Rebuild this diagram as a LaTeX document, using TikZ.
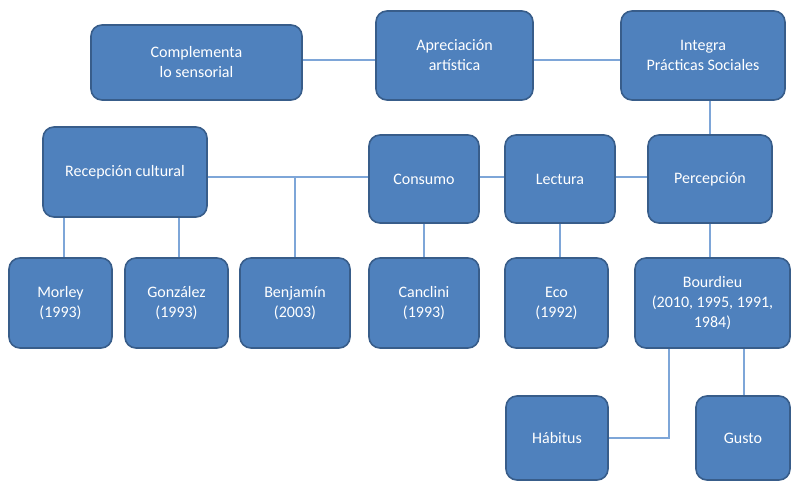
\documentclass[tikz,border=0pt]{standalone}
\usepackage{fontspec}
\setmainfont{Carlito}
\usetikzlibrary{positioning}

\definecolor{boxfill}{HTML}{4F81BD}
\definecolor{boxline}{HTML}{385D8A}
\definecolor{linkline}{HTML}{7EA6D8}

\tikzset{
  conceptbox/.style={draw=boxline, line width=1.6pt, fill=boxfill,
    rounded corners=11pt, text=white, align=center, inner sep=0pt,
    font=\fontsize{16}{20}\selectfont},
  link/.style={draw=linkline, line width=1.2pt}
}

\begin{document}
\begin{tikzpicture}[x=1pt,y=-1pt]
  \useasboundingbox (0,0) rectangle (791,481);
  % top row
  \node (comp) [conceptbox, minimum width=211pt, minimum height=75pt] at (196.5,62.5) {Complementa\\lo sensorial};
  \node (apre) [conceptbox, minimum width=157pt, minimum height=89pt] at (454.5,55.5) {Apreciación\\artística};
  \node (integ) [conceptbox, minimum width=164pt, minimum height=89pt] at (703,55.5) {Integra\\Prácticas Sociales};
  % middle row
  \node (recep) [conceptbox, minimum width=164pt, minimum height=90pt] at (125,172) {Recepción cultural};
  \node (consumo) [conceptbox, minimum width=110pt, minimum height=88pt] at (424,179) {Consumo};
  \node (lectura) [conceptbox, minimum width=110pt, minimum height=88pt] at (560,179) {Lectura};
  \node (percep) [conceptbox, minimum width=124pt, minimum height=88pt] at (710,179) {Percepción};
  % authors
  \node (morley) [conceptbox, minimum width=103pt, minimum height=90pt] at (60.5,303) {Morley\\(1993)};
  \node (gonz) [conceptbox, minimum width=103pt, minimum height=90pt] at (176.5,303) {González\\(1993)};
  \node (benj) [conceptbox, minimum width=110pt, minimum height=90pt] at (295,303) {Benjamín\\(2003)};
  \node (cancl) [conceptbox, minimum width=110pt, minimum height=90pt] at (424,303) {Canclini\\(1993)};
  \node (eco) [conceptbox, minimum width=103pt, minimum height=90pt] at (556.5,303) {Eco\\(1992)};
  \node (bourd) [conceptbox, minimum width=155pt, minimum height=90pt] at (712.5,303) {Bourdieu\\(2010, 1995, 1991,\\1984)};
  % bottom row
  \node (habitus) [conceptbox, minimum width=102pt, minimum height=84pt] at (557,438) {Hábitus};
  \node (gusto) [conceptbox, minimum width=94pt, minimum height=84pt] at (743,438) {Gusto};

  \coordinate (toprow) at (0,60);
  \coordinate (midrow) at (0,177);
  \draw[link] (comp.east |- toprow) -- (apre.west |- toprow);
  \draw[link] (apre.east |- toprow) -- (integ.west |- toprow);
  \draw[link] (percep.north |- integ.south) -- (percep.north);
  \draw[link] (recep.east |- midrow) -- (consumo.west |- midrow);
  \draw[link] (consumo.east |- midrow) -- (lectura.west |- midrow);
  \draw[link] (lectura.east |- midrow) -- (percep.west |- midrow);
  \draw[link] (benj.north |- midrow) -- (benj.north);
  \draw[link] ([xshift=3.5pt]morley.north |- recep.south) -- ([xshift=3.5pt]morley.north);
  \draw[link] ([xshift=2.5pt]gonz.north |- recep.south) -- ([xshift=2.5pt]gonz.north);
  \draw[link] (consumo.south) -- (cancl.north);
  \draw[link] (lectura.south) -- (lectura.south |- eco.north);
  \draw[link] (percep.south) -- (percep.south |- bourd.north);
  \draw[link] ([xshift=-43.5pt]bourd.south) |- (habitus.east);
  \draw[link] ([xshift=31.5pt]bourd.south) -- ([xshift=31.5pt]bourd.south |- gusto.north);
\end{tikzpicture}
\end{document}
